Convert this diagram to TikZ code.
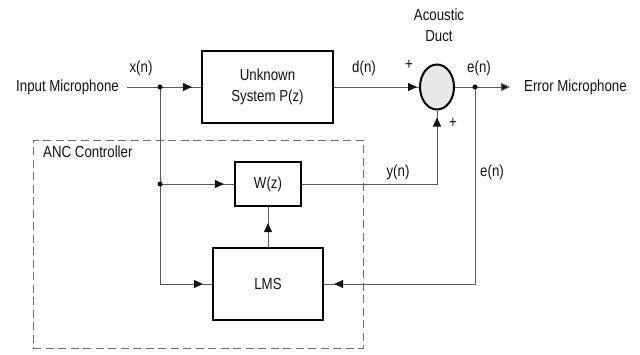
\documentclass[tikz,border=0pt]{standalone}
\usepackage{fontspec}
\setmainfont{Liberation Sans}[FakeStretch=0.83]
\usetikzlibrary{arrows.meta,shapes.geometric,decorations.markings}
\definecolor{wirec}{HTML}{5A5A5A}
\definecolor{txtc}{HTML}{141414}
\definecolor{dashc}{HTML}{707070}
\definecolor{sumfill}{HTML}{E8E8E8}
\begin{document}
\begin{tikzpicture}[x=1pt,y=-1pt,
  font=\fontsize{16}{21}\selectfont,
  every node/.style={text=txtc},
  block/.style={draw=black, line width=2.2pt, align=center, inner sep=0},
  wire/.style={draw=wirec, line width=1pt},
  tipat/.style={postaction={decorate}, decoration={markings,
      mark=at position #1 with {\arrow[fill=txtc,draw=txtc]{Triangle[length=9pt,width=8pt]}}}},
  endtip/.style={-{Triangle[length=9pt,width=8pt,fill=txtc]}},
  dashbox/.style={draw=dashc, line width=1pt, dash pattern=on 8pt off 4.5pt},
  lbl/.style={inner sep=0}]
\fill[white] (0,0) rectangle (640,354);
% nodes
\node[lbl, anchor=east] (inmic) at (119,87) {Input Microphone};
\coordinate (xin) at (127,87);
\coordinate (d1) at (160,87);
\node[block, minimum width=131pt, minimum height=72pt] (P) at (267.5,87) {Unknown\\System P(z)};
\node[ellipse, draw=black, line width=2pt, fill=sumfill, minimum width=34pt, minimum height=45pt, inner sep=0] (sum) at (437,87) {};
\coordinate (d2) at (475,87);
\coordinate (errend) at (510,87);
\node[lbl, anchor=west] (errmic) at (524,87) {Error Microphone};
\node[dashbox, minimum width=330pt, minimum height=208pt, inner sep=0] (anc) at (198,244) {};
\node[lbl, anchor=north west] (anclbl) at (43,146) {ANC Controller};
\node[block, minimum width=66pt, minimum height=44pt] (W) at (268,184) {W(z)};
\node[block, minimum width=110pt, minimum height=72pt] (LMS) at (268,284) {LMS};
\coordinate (d3) at (160,184);
\coordinate (lmsin) at (160,284);
\coordinate (ycorner) at (437,184);
\coordinate (ecorner) at (475,284);
% labels
\node[lbl] (xl) at (141,68) {x(n)};
\node[lbl] (dl) at (364,68) {d(n)};
\node[lbl] (p1) at (409,65) {+};
\node[lbl] (p2) at (453,123) {+};
\node[lbl] (el) at (479,68) {e(n)};
\node[lbl, align=center] (ad) at (439,25) {Acoustic\\Duct};
\node[lbl] (yl) at (398,172) {y(n)};
\node[lbl] (el2) at (492,172) {e(n)};
% wires
\draw[wire] (xin) -- (d1);
\draw[wire, tipat=-9pt] (d1) -- (P.west);
\draw[wire, tipat=-2pt] (P.east) -- (sum.west);
\draw[wire, endtip] (sum.east) -- (errend);
\draw[wire] (d1) -- (lmsin);
\draw[wire, tipat=-10pt] (d3) -- (W.west);
\draw[wire, tipat=-9pt] (lmsin) -- (LMS.west);
\draw[wire, tipat=-16pt] (LMS.north) -- (W.south);
\draw[wire, tipat=-7pt] (W.east) -- (ycorner) -- (sum.south);
\draw[wire, tipat=-10pt] (d2) -- (ecorner) -- (LMS.east);
% dots
\fill[black] (d1) circle (2.5pt) (d2) circle (2.5pt) (d3) circle (2.5pt);
\end{tikzpicture}
\end{document}
